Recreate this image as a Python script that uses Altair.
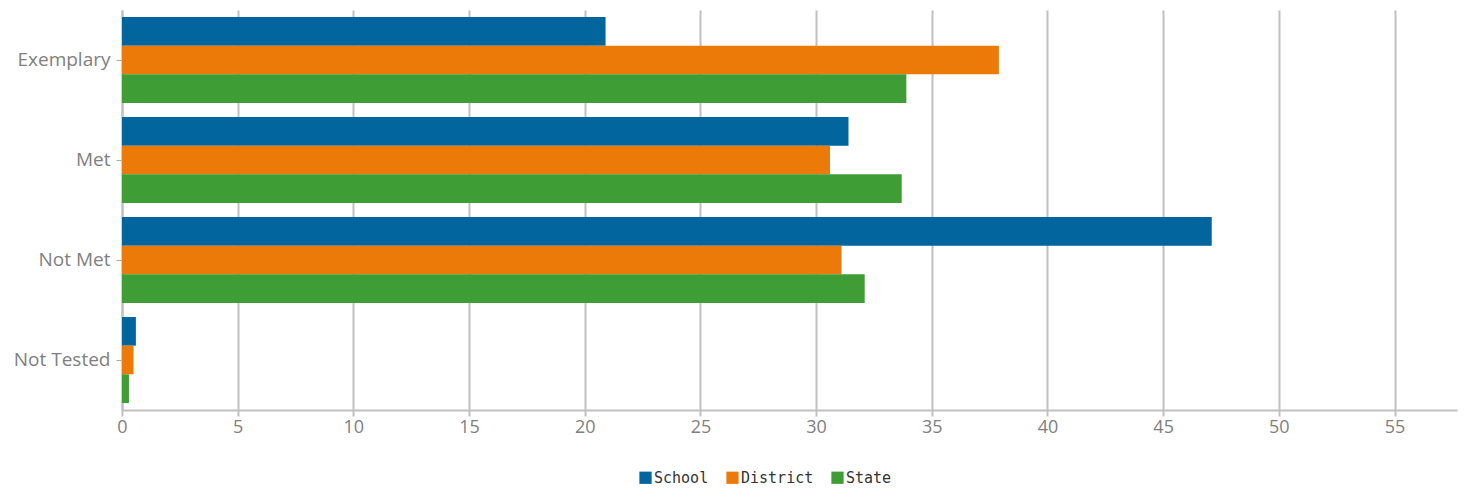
import altair as alt
import pandas as pd

categories = ["Exemplary", "Met", "Not Met", "Not Tested"]
series = ["School", "District", "State"]
school = [20.9, 31.4, 47.1, 0.6]
district = [37.9, 30.6, 31.1, 0.5]
state = [33.9, 33.7, 32.1, 0.3]
colors = ["#03659D", "#EC7A08", "#3E9D35"]

rows = []
for i, c in enumerate(categories):
    for s, vals in zip(series, [school, district, state]):
        rows.append({"category": c, "series": s, "value": vals[i]})
df = pd.DataFrame(rows)

chart = alt.Chart(df).mark_bar().encode(
    y=alt.Y("category:N", sort=categories,
            scale=alt.Scale(paddingInner=0.14, paddingOuter=0.07),
            axis=alt.Axis(title=None, labelFontSize=19, labelColor="#808080",
                          labelFont="Open Sans", tickColor="#aaaaaa", tickSize=6,
                          domainColor="#c0c0c0", domainWidth=2, labelPadding=6)),
    yOffset=alt.YOffset("series:N", sort=series, scale=alt.Scale(paddingInner=0, paddingOuter=0)),
    x=alt.X("value:Q", scale=alt.Scale(domain=[0, 57.7], nice=False),
            axis=alt.Axis(title=None, values=list(range(0, 60, 5)), labelFontSize=18,
                          labelColor="#808080", labelFont="Open Sans", gridColor="#c0c0c0",
                          gridWidth=2, tickColor="#c0c0c0", tickWidth=2, tickSize=6,
                          domainColor="#c0c0c0", domainWidth=2, labelPadding=2,
                          labelFlush=False)),
    color=alt.Color("series:N", sort=series,
                    scale=alt.Scale(domain=series, range=colors),
                    legend=alt.Legend(title=None, orient="none", direction="horizontal",
                                      legendX=516, legendY=460, symbolType="square",
                                      symbolSize=150, symbolStrokeWidth=0, labelFont="DejaVu Sans Mono",
                                      labelFontSize=15, labelColor="#333333", columnPadding=16,
                                      labelOffset=1)),
).properties(width=1335, height=400, padding={"left": 114, "top": 2, "right": 2, "bottom": 78},
             autosize=alt.AutoSizeParams(type="none")
).configure_view(stroke=None)

chart.save("out.html", embed_options={"renderer": "svg", "actions": False})
